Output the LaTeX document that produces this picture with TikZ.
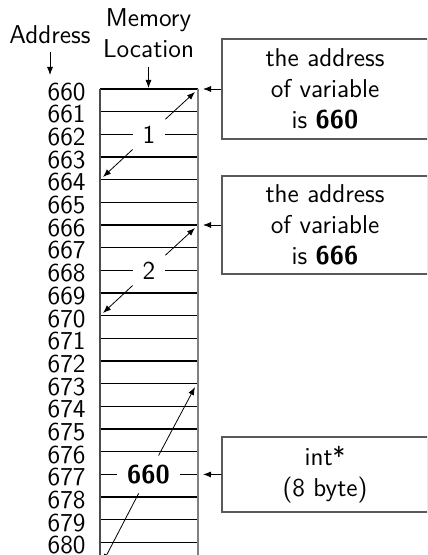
\documentclass[tikz,border=0pt]{standalone}
\usetikzlibrary{arrows.meta}
\begin{document}
\begin{tikzpicture}[x=0.5pt,y=-0.5pt,
  every node/.style={font=\fontsize{12.9pt}{15.4pt}\selectfont\sffamily, inner sep=0pt},
  lbl/.style={fill=white, minimum width=16pt, minimum height=15pt},
  infobox/.style={draw=black!65, line width=0.75pt, minimum width=103pt, align=center, fill=white},
  arr/.style={-{Latex[length=4pt,width=3pt]}, line width=0.4pt},
  row/.style={line width=0.65pt}]
\useasboundingbox (0,0) rectangle (427,555);
\clip (0,0) rectangle (427,555);
% headings
\node[anchor=base] (addr) at (50,43.3) {Address};
\node[anchor=south, align=center] (mem) at (148.5,58.3) {Memory\\Location};
% addresses
\foreach \i in {0,...,20} {
  \pgfmathtruncatemacro\n{660+\i}
  \node[anchor=base east] (a\n) at (86, 89+\i*22.67+11.3) {\n};
}
% table
\foreach \i in {0,...,21} \draw[row] (100, 89+\i*22.67) -- (198, 89+\i*22.67);
\draw[black!70, line width=0.65pt] (100,89) -- (100,570);
\draw[black!50, line width=1pt] (198,89) -- (198,570);
% heading arrows
\coordinate (addrtip) at (50,75);
\coordinate (memtip) at (148.5,88);
\draw[arr, shorten <=4.2pt] (addr.south) -- (addrtip);
\draw[arr, shorten <=4.2pt] (mem.south) -- (memtip);
% span labels
\node[lbl] (n1) at (149,134.3) {1};
\node[lbl] (n2) at (149,270.3) {2};
\node[lbl, minimum width=31.5pt, minimum height=18.5pt] (n3) at (148.5,474.4) {\textbf{660}};
\coordinate (t1a) at (195,92);
\coordinate (t1b) at (103,177);
\coordinate (t2a) at (195,228);
\coordinate (t2b) at (103,313);
\coordinate (t3a) at (195,387);
\coordinate (t3b) at (103,562);
\draw[arr] (n1) -- (t1a);
\draw[arr] (n1) -- (t1b);
\draw[arr] (n2) -- (t2a);
\draw[arr] (n2) -- (t2b);
\draw[arr] (n3) -- (t3a);
\draw[arr] (n3) -- (t3b);
% info boxes
\node[infobox, minimum height=50pt] (b1) at (325,89) {the address\\of variable\\is \textbf{660}};
\node[infobox, minimum height=49pt] (b2) at (325,225) {the address\\of variable\\is \textbf{666}};
\node[infobox, minimum height=37.5pt] (b3) at (325,474.5) {int*\\(8 byte)};
\coordinate (p1) at (203,89);
\coordinate (p2) at (203,225);
\coordinate (p3) at (203,474.4);
\draw[arr] (b1.west) -- (p1);
\draw[arr] (b2.west) -- (p2);
\draw[arr] (b3.west) -- (p3);
\end{tikzpicture}
\end{document}
